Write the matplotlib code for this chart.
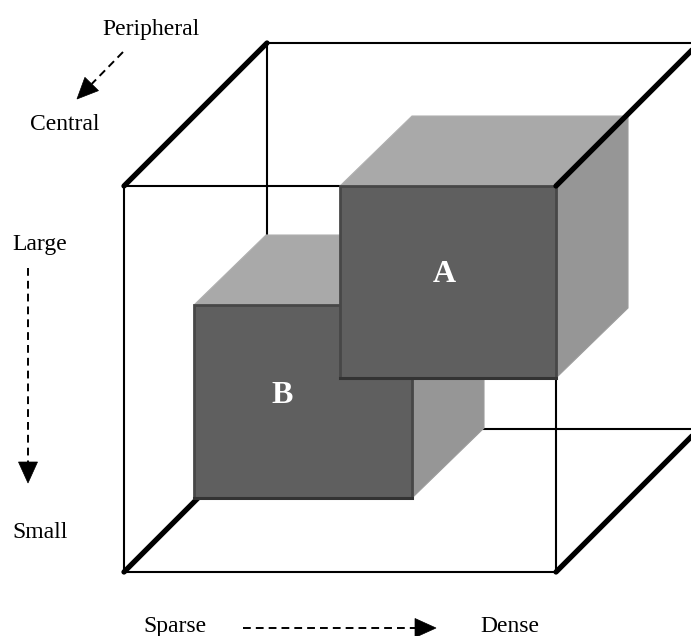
import matplotlib.pyplot as plt
from matplotlib.patches import Polygon

# outer cube (pixel units, y grows downward)
cube_front = [124, 186, 556, 572]   # left, top, right, bottom
cube_depth = [143, -143]            # dx, dy to the back face

# inner boxes
box_labels = ['B', 'A']
box_left = [194, 340]
box_top = [305, 186]
box_right = [412, 556]
box_bottom = [498, 378]
box_depth = [72, -70]
label_pos = [(282, 403), (444, 282)]

# axis captions: text, x, baseline y
captions = [('Peripheral', 102, 35), ('Central', 30, 130),
            ('Large', 12, 250), ('Small', 12, 538),
            ('Sparse', 143, 632), ('Dense', 480, 632)]

# dashed arrows: start, tip
arrows = [((123, 52), (77, 99)), ((28, 268), (28, 483)), ((243, 628), (436, 628))]
head_len = 21
head_w = 19

FRONT = '#5f5f5f'
TOP = '#a9a9a9'
SIDE = '#969696'

fig = plt.figure(figsize=(6.91, 6.36), dpi=100)
ax = fig.add_axes([0, 0, 1, 1])
ax.set_xlim(0, 691)
ax.set_ylim(636, 0)
ax.axis('off')

thin = 1.5
thick = 3.8

l, t, r, b = cube_front
dx, dy = cube_depth

# back face
ax.plot([l + dx, r + dx, r + dx, l + dx, l + dx],
        [t + dy, t + dy, b + dy, b + dy, t + dy], color='black', lw=thin, zorder=1)
# front face
ax.plot([l, r, r, l, l], [t, t, b, b, t], color='black', lw=thin, zorder=1)
# depth edges
for i, (x0, y0) in enumerate([(l, t), (l, b), (r, b), (r, t)]):
    z = 5 if i == 3 else 1
    ax.plot([x0, x0 + dx], [y0, y0 + dy], color='black', lw=thick,
            solid_capstyle='round', zorder=z)

# boxes, back one first
bdx, bdy = box_depth
for i, lab in enumerate(box_labels):
    bl, bt, br, bb = box_left[i], box_top[i], box_right[i], box_bottom[i]
    z = 2 + i
    top = Polygon([(bl, bt), (br, bt), (br + bdx, bt + bdy), (bl + bdx, bt + bdy)],
                  closed=True, facecolor=TOP, edgecolor='#b0b0b0', lw=0.8, zorder=z)
    side = Polygon([(br, bt), (br + bdx, bt + bdy), (br + bdx, bb + bdy), (br, bb)],
                   closed=True, facecolor=SIDE, edgecolor='#9c9c9c', lw=0.8, zorder=z)
    front = Polygon([(bl, bt), (br, bt), (br, bb), (bl, bb)],
                    closed=True, facecolor=FRONT, edgecolor='#474747', lw=2, zorder=z)
    ax.add_patch(top)
    ax.add_patch(side)
    ax.add_patch(front)
    ax.plot([bl, br], [bb, bb], color='#333333', lw=2.2, zorder=z)
    ax.text(label_pos[i][0], label_pos[i][1], lab, ha='center', va='baseline',
            color='white', fontsize=23, fontweight='bold',
            family='Liberation Serif', zorder=z)

for txt, x, y in captions:
    ax.text(x, y, txt, ha='left', va='baseline', fontsize=17,
            family='Liberation Serif', color='black')

for (x0, y0), (x1, y1) in arrows:
    vx, vy = x1 - x0, y1 - y0
    n = (vx ** 2 + vy ** 2) ** 0.5
    ux, uy = vx / n, vy / n
    bx, by = x1 - ux * head_len, y1 - uy * head_len
    ax.plot([x0, bx], [y0, by], color='black', lw=1.4, dashes=(4, 2.6))
    px, py = -uy, ux
    head = Polygon([(x1, y1), (bx + px * head_w / 2, by + py * head_w / 2),
                    (bx - px * head_w / 2, by - py * head_w / 2)],
                   closed=True, facecolor='black', edgecolor='black', lw=0.5)
    ax.add_patch(head)

fig.savefig('out.png', dpi=100, facecolor='white')
